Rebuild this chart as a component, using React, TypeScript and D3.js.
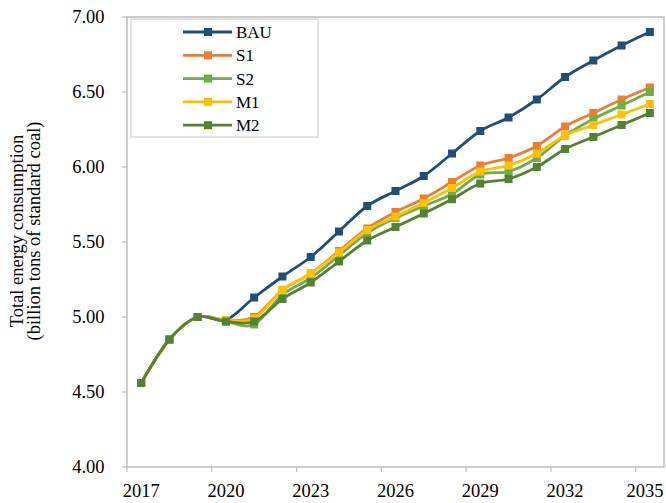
import React from "react";
import * as d3 from "d3";

const years = [2017, 2018, 2019, 2020, 2021, 2022, 2023, 2024, 2025, 2026, 2027, 2028, 2029, 2030, 2031, 2032, 2033, 2034, 2035];
const bau = [4.56, 4.85, 5.0, 4.98, 5.13, 5.27, 5.4, 5.57, 5.74, 5.84, 5.94, 6.09, 6.24, 6.33, 6.45, 6.6, 6.71, 6.81, 6.9];
const s1 = [4.56, 4.85, 5.0, 4.98, 5.0, 5.18, 5.29, 5.44, 5.59, 5.7, 5.79, 5.9, 6.01, 6.06, 6.14, 6.27, 6.36, 6.45, 6.53];
const s2 = [4.56, 4.85, 5.0, 4.97, 4.95, 5.15, 5.26, 5.41, 5.56, 5.66, 5.74, 5.82, 5.95, 5.97, 6.06, 6.21, 6.32, 6.41, 6.5];
const m1 = [4.56, 4.85, 5.0, 4.98, 4.99, 5.18, 5.29, 5.43, 5.58, 5.67, 5.76, 5.86, 5.97, 6.01, 6.09, 6.21, 6.28, 6.35, 6.42];
const m2 = [4.56, 4.85, 5.0, 4.97, 4.97, 5.12, 5.23, 5.37, 5.51, 5.6, 5.69, 5.785, 5.89, 5.92, 6.0, 6.12, 6.2, 6.28, 6.36];
const seriesNames = ["BAU", "S1", "S2", "M1", "M2"];
const seriesValues = [bau, s1, s2, m1, m2];
const seriesColors = ["#1F4E79", "#ED7D31", "#70AD47", "#FFC000", "#548235"];
const yTicks = [4.0, 4.5, 5.0, 5.5, 6.0, 6.5, 7.0];
const xTickYears = [2017, 2020, 2023, 2026, 2029, 2032, 2035];

const W = 666, H = 503;
const left = 127, right = 664, top = 17, bottom = 467;
const font = "Liberation Serif, Times New Roman, DejaVu Serif, serif";

export default function App() {
  const band = d3.scaleBand<number>().domain(years).range([left, right]).padding(0);
  const xc = (yr: number) => (band(yr) as number) + band.bandwidth() / 2;
  const y = d3.scaleLinear().domain([4, 7]).range([bottom, top]);
  const line = d3
    .line<number>()
    .x((_, i) => xc(years[i]))
    .y((d) => y(d))
    .curve(d3.curveCardinal.tension(0));
  const axisColor = "#BFBFBF";
  const ms = 8;
  const ts = { fontFamily: font, fontSize: 18.5, fill: "#000" } as React.CSSProperties;
  const ls = { fontFamily: font, fontSize: 17, fill: "#000" } as React.CSSProperties;

  return (
    <svg width={W} height={H} style={{ position: "absolute", left: 0, top: 0, fontFamily: font }}>
      <rect x={0} y={0} width={W} height={H} fill="#fff" />
      <rect x={left} y={top} width={right - left} height={bottom - top} fill="none" stroke={axisColor} strokeWidth={1.5} />
      {yTicks.map((t) => (
        <g key={t}>
          <line x1={left - 5} x2={left} y1={y(t)} y2={y(t)} stroke={axisColor} strokeWidth={1.2} />
          <text x={104.5} y={y(t)} dy="0.33em" textAnchor="end" style={ts}>
            {t.toFixed(2)}
          </text>
        </g>
      ))}
      {xTickYears.map((yr) => (
        <g key={yr}>
          <line x1={band(yr) as number} x2={band(yr) as number} y1={bottom} y2={bottom + 5} stroke={axisColor} strokeWidth={1.2} />
          <text x={Math.min(xc(yr), W - 21)} y={497} textAnchor="middle" style={ts}>
            {yr}
          </text>
        </g>
      ))}
      <g transform={`translate(23, 231) rotate(-90)`}>
        <text x={0} y={0} textAnchor="middle" style={ts}>
          Total energy consumption
        </text>
        <text x={0} y={16.5} textAnchor="middle" style={ts}>
          (billion tons of standard coal)
        </text>
      </g>
      {seriesValues.map((vals, si) => (
        <g key={seriesNames[si]}>
          <path d={line(vals) || ""} fill="none" stroke={seriesColors[si]} strokeWidth={2.8} />
          {vals.map((v, i) => (
            <rect
              key={i}
              x={xc(years[i]) - ms / 2}
              y={y(v) - ms / 2}
              width={ms}
              height={ms}
              fill={seriesColors[si]}
            />
          ))}
        </g>
      ))}
      <rect x={131} y={19} width={187} height={118} fill="#fff" stroke="#D0D0D0" strokeWidth={1.2} />
      {seriesNames.map((n, i) => {
        const ly = 32 + i * 23.3;
        return (
          <g key={n}>
            <line x1={183} x2={232} y1={ly} y2={ly} stroke={seriesColors[i]} strokeWidth={2.8} />
            <rect x={208 - ms / 2} y={ly - ms / 2} width={ms} height={ms} fill={seriesColors[i]} />
            <text x={236} y={ly} dy="0.35em" style={ls}>
              {n}
            </text>
          </g>
        );
      })}
    </svg>
  );
}
